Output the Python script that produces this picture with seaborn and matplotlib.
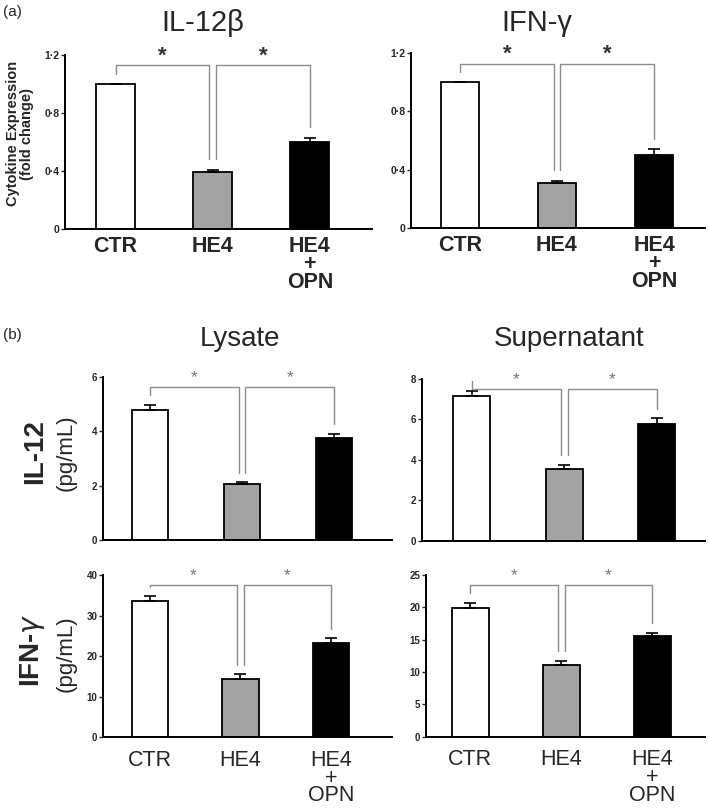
import numpy as np
import pandas as pd
import seaborn as sns
import matplotlib.pyplot as plt

# ---- data ------------------------------------------------------------------
groups = ["CTR", "HE4", "HE4\n+\nOPN"]
bar_colors = ["white", "#a3a3a3", "black"]

# (a) cytokine expression, fold change
il12b_fold = [1.0, 0.39, 0.60]
il12b_fold_err = [0.0, 0.02, 0.03]
ifng_fold = [1.0, 0.31, 0.50]
ifng_fold_err = [0.0, 0.015, 0.04]

# (b) protein, pg/mL
il12_lysate = [4.80, 2.05, 3.74]
il12_lysate_err = [0.18, 0.07, 0.18]
il12_super = [7.18, 3.55, 5.76]
il12_super_err = [0.24, 0.20, 0.30]
ifng_lysate = [33.6, 14.4, 23.2]
ifng_lysate_err = [1.1, 1.1, 1.2]
ifng_super = [19.9, 11.1, 15.5]
ifng_super_err = [0.8, 0.65, 0.55]

fold_ticks = [0, 0.4, 0.8, 1.2]
fold_ticklabels = ["0", "0·4", "0·8", "1·2"]

sns.set_style("ticks")
plt.rcParams["font.family"] = ["Liberation Sans", "DejaVu Sans"]
plt.rcParams["mathtext.fontset"] = "dejavusans"

fig = plt.figure(figsize=(7.09, 8.10), dpi=100)
fig.patch.set_facecolor("white")


def draw_panel(rect, means, errs, yticks, yticklabels, xlim, xlabels=None,
               xbold=False, xsize=14, xpad=4, xspacing=0.9, ysize=7,
               star_kw=None):
    ax = fig.add_axes(rect)
    df = pd.DataFrame({"group": groups, "value": means})
    sns.barplot(data=df, x="group", y="value", hue="group", order=groups,
                hue_order=groups, palette=bar_colors, saturation=1, width=0.4,
                edgecolor="black", linewidth=1.3, legend=False, ax=ax)
    ax.errorbar(range(len(groups)), means, yerr=[np.zeros(len(means)), errs],
                fmt="none", ecolor="black", elinewidth=1.2, capsize=4,
                capthick=1.2, zorder=1)
    ymax = yticks[-1]
    ax.set_ylim(0, ymax)
    ax.set_xlim(*xlim)
    ax.set_yticks(yticks)
    ax.set_yticklabels(yticklabels, fontsize=ysize, fontweight="bold")
    ax.tick_params(axis="y", length=3, width=1, pad=1)
    ax.tick_params(axis="x", length=0, pad=xpad)
    if xlabels:
        ax.set_xticks(range(len(groups)))
        ax.set_xticklabels(xlabels, fontsize=xsize,
                           fontweight="bold" if xbold else "normal",
                           linespacing=xspacing)
    else:
        ax.set_xticklabels([])
    ax.set_xlabel("")
    ax.set_ylabel("")
    sns.despine(ax=ax)
    for s in ["left", "bottom"]:
        ax.spines[s].set_linewidth(1.4)
        ax.spines[s].set_color("black")

    # significance brackets
    tops = [m + e for m, e in zip(means, errs)]
    gap = 0.06 * ymax
    yb = 0.94 * ymax
    for x1, x2, i1, i2 in [(0, 1 - 0.035, 0, 1), (1 + 0.035, 2, 1, 2)]:
        ax.plot([x1, x1, x2, x2], [tops[i1] + gap, yb, yb, tops[i2] + gap],
                color="#8c8c8c", lw=1, clip_on=False)
        ax.text((x1 + x2) / 2, yb + 0.055 * ymax, "*", ha="center",
                va="center", clip_on=False, **star_kw)
    return ax


star_a = dict(fontsize=16, fontweight="bold", color="#333333")
star_b = dict(fontsize=12.5, color="#777777")

draw_panel([0.0917, 0.7173, 0.433, 0.2148], il12b_fold, il12b_fold_err,
           fold_ticks, fold_ticklabels, (-0.52, 2.64), groups, xbold=True,
           xsize=15.5, xpad=5, xspacing=0.82, ysize=7.5, star_kw=star_a)
draw_panel([0.5797, 0.7185, 0.4147, 0.216], ifng_fold, ifng_fold_err,
           fold_ticks, fold_ticklabels, (-0.505, 2.526), groups, xbold=True,
           xsize=15.5, xpad=5, xspacing=0.82, ysize=7.5, star_kw=star_a)

draw_panel([0.1453, 0.3333, 0.4076, 0.2012], il12_lysate, il12_lysate_err,
           [0, 2, 4, 6], ["0", "2", "4", "6"], (-0.51, 2.63), star_kw=star_b)
draw_panel([0.5948, 0.3321, 0.3996, 0.2], il12_super, il12_super_err,
           [0, 2, 4, 6, 8], ["0", "2", "4", "6", "8"], (-0.54, 2.52),
           star_kw=star_b)
draw_panel([0.1453, 0.0898, 0.4076, 0.2004], ifng_lysate, ifng_lysate_err,
           [0, 10, 20, 30, 40], ["0", "10", "20", "30", "40"], (-0.515, 2.67),
           groups, xsize=15.5, xpad=9, xspacing=0.8, star_kw=star_b)
draw_panel([0.6004, 0.0905, 0.3943, 0.1996], ifng_super, ifng_super_err,
           [0, 5, 10, 15, 20, 25], ["0", "5", "10", "15", "20", "25"],
           (-0.49, 2.58), groups, xsize=15.5, xpad=9, xspacing=0.8,
           star_kw=star_b)

# panel letters and titles
fig.text(0.004, 0.985, "(a)", fontsize=11, va="center")
fig.text(0.004, 0.586, "(b)", fontsize=11, va="center")
fig.text(0.286, 0.9716, "IL-12β", fontsize=21, ha="center", va="center")
fig.text(0.757, 0.9716, "IFN-γ", fontsize=21, ha="center", va="center")
fig.text(0.338, 0.5815, "Lysate", fontsize=20, ha="center", va="center")
fig.text(0.8025, 0.5815, "Supernatant", fontsize=20, ha="center", va="center")

# y-axis labels
fig.text(0.028, 0.835, "Cytokine Expression\n(fold change)", fontsize=10.5,
         fontweight="bold", rotation=90, ha="center", va="center",
         linespacing=1.0)
fig.text(0.049, 0.442, "IL-12", fontsize=20, fontweight="bold", rotation=90,
         ha="center", va="center")
fig.text(0.093, 0.441, "(pg/mL)", fontsize=16, rotation=90, ha="center",
         va="center")
fig.text(0.0465, 0.1975, r"IFN-$\gamma$", fontsize=20, fontweight="bold",
         rotation=90, ha="center", va="center")
fig.text(0.093, 0.193, "(pg/mL)", fontsize=16, rotation=90, ha="center",
         va="center")

fig.savefig("out.png", dpi=100, facecolor="white")
